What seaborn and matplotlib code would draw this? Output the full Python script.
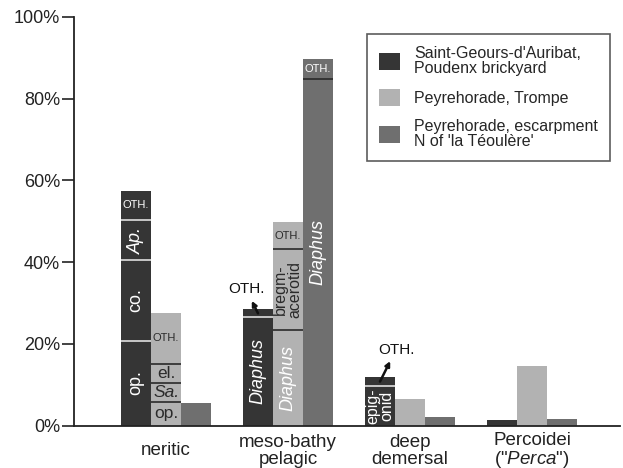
import matplotlib
matplotlib.use("Agg")
import matplotlib.pyplot as plt
import pandas as pd
import seaborn as sns

# --- data ---
categories = ["neritic", "meso-bathy pelagic", "deep demersal", "Percoidei"]
tick_labels = ["neritic", "meso-bathy\npelagic", "deep\ndemersal", "Percoidei\n(\"$\\it{Perca}$\")"]
sites = [
    "Saint-Geours-d'Auribat,\nPoudenx brickyard",
    "Peyrehorade, Trompe",
    "Peyrehorade, escarpment\nN of 'la Téoulère'",
]
site_colors = ["#353535", "#b2b2b2", "#6f6f6f"]

saint_geours_pct = [57.4, 28.4, 11.8, 1.4]
trompe_pct = [27.6, 49.9, 6.4, 14.6]
escarpment_pct = [5.4, 89.6, 2.0, 1.7]

# cumulative boundaries inside the stacked bars
neritic_dark_bounds = [20.8, 40.5, 50.3]
neritic_dark_labels = ["op.", "co.", "Ap.", "OTH."]
neritic_light_bounds = [5.7, 10.5, 15.0]
neritic_light_labels = ["op.", "Sa.", "el.", "OTH."]
meso_dark_bounds = [26.5]
meso_dark_labels = ["Diaphus", "OTH."]
meso_light_bounds = [23.4, 43.1]
meso_light_labels = ["Diaphus", "bregm-\nacerotid", "OTH."]
meso_medium_bounds = [84.8]
meso_medium_labels = ["Diaphus", "OTH."]
deep_dark_bounds = [9.7]
deep_dark_labels = ["epig-\nonid", "OTH."]

# (category index, site index, bounds, labels)
segments = [
    (0, 0, neritic_dark_bounds, neritic_dark_labels),
    (0, 1, neritic_light_bounds, neritic_light_labels),
    (1, 0, meso_dark_bounds, meso_dark_labels),
    (1, 1, meso_light_bounds, meso_light_labels),
    (1, 2, meso_medium_bounds, meso_medium_labels),
    (2, 0, deep_dark_bounds, deep_dark_labels),
]

italic_labels = {"Diaphus", "Sa.", "Ap."}

rows = []
for site, vals in zip(sites, [saint_geours_pct, trompe_pct, escarpment_pct]):
    for cat, v in zip(categories, vals):
        rows.append({"category": cat, "site": site, "pct": v})
df = pd.DataFrame(rows)

sns.set_style("ticks")
plt.rcParams["font.family"] = ["Liberation Sans", "DejaVu Sans"]
plt.rcParams["mathtext.fontset"] = "custom"
plt.rcParams["mathtext.it"] = "Liberation Sans:italic"
plt.rcParams["mathtext.rm"] = "Liberation Sans"

fig = plt.figure(figsize=(6.23, 4.68), dpi=100)
ax = fig.add_axes([0.119, 0.0908, 0.876, 0.873])

sns.barplot(data=df, x="category", y="pct", hue="site", order=categories,
            hue_order=sites, palette=site_colors, width=0.74, gap=0,
            saturation=1, edgecolor="none", linewidth=0, ax=ax)

ax.set_ylim(0, 100)
ax.set_xlim(-0.754, 3.72)
ax.set_yticks([0, 20, 40, 60, 80, 100])
ax.set_yticklabels([f"{t}%" for t in [0, 20, 40, 60, 80, 100]])
ax.set_xticks(range(len(categories)))
ax.set_xticklabels(tick_labels)
ax.set_xlabel("")
ax.set_ylabel("")
ax.tick_params(axis="x", length=0, pad=18, labelsize=13.5, colors="#222222")
ax.tick_params(axis="y", length=8.5, width=1.2, pad=1.5, labelsize=13, colors="#222222",
               direction="out")
for lab in ax.get_xticklabels():
    lab.set_verticalalignment("center")
    lab.set_linespacing(1.0)
sns.despine(ax=ax)
for sp in ["left", "bottom"]:
    ax.spines[sp].set_linewidth(1.3)
    ax.spines[sp].set_color("#222222")

# segment separators and labels
for cat_i, site_i, bounds, labels in segments:
    bar = ax.containers[site_i][cat_i]
    x0 = bar.get_x()
    w = bar.get_width()
    top = bar.get_height()
    cx = x0 + w / 2
    edges = [0] + list(bounds) + [top]
    line_col = "#e0e0e0" if site_i == 0 else "#2a2a2a"
    for b in bounds:
        ax.plot([x0, x0 + w], [b, b], color=line_col, lw=1.2, solid_capstyle="butt")
    for lo, hi, lab in zip(edges[:-1], edges[1:], labels):
        h = hi - lo
        mid = (lo + hi) / 2
        white = site_i != 1 or lab == "Diaphus"
        col = "white" if white else "#2a2a2a"
        style = "italic" if lab in italic_labels else "normal"
        if lab == "OTH.":
            if h < 3:
                # too thin: label outside with a little arrow
                off = (-12, 24) if cat_i == 1 else (16, 32)
                ax.annotate(lab, xy=(cx, mid), xytext=off, textcoords="offset pixels",
                            ha="center", va="center", fontsize=11, color="#111111",
                            arrowprops=dict(arrowstyle="<|-", color="#111111", lw=1.8,
                                            mutation_scale=7, shrinkA=1, shrinkB=0))
            else:
                ax.text(cx, mid, lab, ha="center", va="center", fontsize=8, color=col)
        elif h >= 8:
            fs = 11.5 if "\n" in lab else 13
            ax.text(cx, mid, lab, ha="center", va="center", rotation=90, fontsize=fs,
                    color=col, style=style, linespacing=0.95)
        else:
            ax.text(cx, mid, lab, ha="center", va="center", fontsize=12.5,
                    color=col, style=style)

leg = ax.legend(loc="upper right", bbox_to_anchor=(0.982, 0.958), frameon=True,
                fancybox=False, edgecolor="#333333", fontsize=11.5, handlelength=1.3,
                handleheight=1.25, labelspacing=0.8, borderpad=0.75, handletextpad=0.9,
                borderaxespad=0, title=None)
leg.get_frame().set_linewidth(1.2)
for t in leg.get_texts():
    t.set_linespacing(1.0)

fig.savefig("out.png", dpi=100)
